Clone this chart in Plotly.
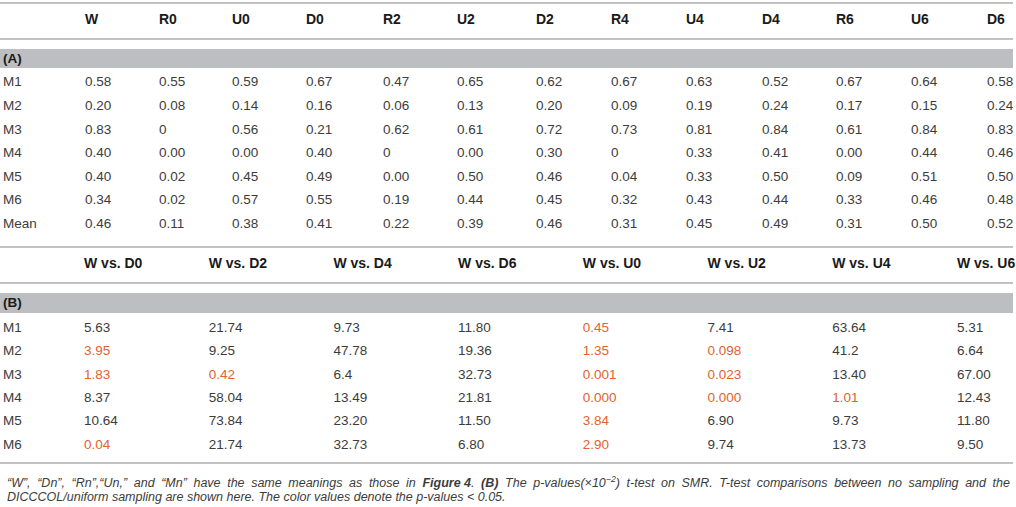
import plotly.graph_objects as go

# ---------------- data ----------------
cols_A = ["W", "R0", "U0", "D0", "R2", "U2", "D2", "R4", "U4", "D4", "R6", "U6", "D6"]
rows_A = ["M1", "M2", "M3", "M4", "M5", "M6", "Mean"]
W  = ["0.58", "0.20", "0.83", "0.40", "0.40", "0.34", "0.46"]
R0 = ["0.55", "0.08", "0", "0.00", "0.02", "0.02", "0.11"]
U0 = ["0.59", "0.14", "0.56", "0.00", "0.45", "0.57", "0.38"]
D0 = ["0.67", "0.16", "0.21", "0.40", "0.49", "0.55", "0.41"]
R2 = ["0.47", "0.06", "0.62", "0", "0.00", "0.19", "0.22"]
U2 = ["0.65", "0.13", "0.61", "0.00", "0.50", "0.44", "0.39"]
D2 = ["0.62", "0.20", "0.72", "0.30", "0.46", "0.45", "0.46"]
R4 = ["0.67", "0.09", "0.73", "0", "0.04", "0.32", "0.31"]
U4 = ["0.63", "0.19", "0.81", "0.33", "0.33", "0.43", "0.45"]
D4 = ["0.52", "0.24", "0.84", "0.41", "0.50", "0.44", "0.49"]
R6 = ["0.67", "0.17", "0.61", "0.00", "0.09", "0.33", "0.31"]
U6 = ["0.64", "0.15", "0.84", "0.44", "0.51", "0.46", "0.50"]
D6 = ["0.58", "0.24", "0.83", "0.46", "0.50", "0.48", "0.52"]
table_A = [W, R0, U0, D0, R2, U2, D2, R4, U4, D4, R6, U6, D6]

cols_B = ["W vs. D0", "W vs. D2", "W vs. D4", "W vs. D6",
          "W vs. U0", "W vs. U2", "W vs. U4", "W vs. U6"]
rows_B = ["M1", "M2", "M3", "M4", "M5", "M6"]
W_D0 = ["5.63", "3.95", "1.83", "8.37", "10.64", "0.04"]
W_D2 = ["21.74", "9.25", "0.42", "58.04", "73.84", "21.74"]
W_D4 = ["9.73", "47.78", "6.4", "13.49", "23.20", "32.73"]
W_D6 = ["11.80", "19.36", "32.73", "21.81", "11.50", "6.80"]
W_U0 = ["0.45", "1.35", "0.001", "0.000", "3.84", "2.90"]
W_U2 = ["7.41", "0.098", "0.023", "0.000", "6.90", "9.74"]
W_U4 = ["63.64", "41.2", "13.40", "1.01", "9.73", "13.73"]
W_U6 = ["5.31", "6.64", "67.00", "12.43", "11.80", "9.50"]
table_B = [W_D0, W_D2, W_D4, W_D6, W_U0, W_U2, W_U4, W_U6]
threshold = 5.0  # p < 0.05 in units of 1e-2

caption_1_words = ['\u201cW\u201d,', '\u201cDn\u201d,', '\u201cRn\u201d,\u201cUn,\u201d', 'and', '\u201cMn\u201d',
                   'have', 'the', 'same', 'meanings', 'as', 'those', 'in', '<b>Figure 4</b>.',
                   '<b>(B)</b>', 'The', 'p-values(\u00d710<sup>\u22122</sup>)', 't-test', 'on', 'SMR.',
                   'T-test', 'comparisons', 'between', 'no', 'sampling', 'and', 'the']
caption_2 = 'DICCCOL/uniform sampling are shown here. The color values denote the p-values &lt; 0.05.'

# ---------------- layout constants ----------------
W_PX, H_PX = 1016, 507
FONT = "Liberation Sans"
TXT = "#3c3c3c"
HEAD = "#1a1a1a"
HILITE = "#E0632E"
RULE = "#C2C2C2"
BAND = "#BDBEC1"
CAP_SIZE = 12.5
JUSTIFY_GAP = " \u2005"  # widened word gap to imitate the justified first line
DY = 1.5  # small vertical nudge for body rows

xA = [85, 159, 232, 306, 383, 457, 536, 611, 686, 762, 836, 911, 987]
xB = [84 + i * 124.7 for i in range(8)]
x_label = 3
yA_head, yA_band, yA0, yA_step = 20, (49, 68), 81.5 + DY, 23.6
yB_head, yB_band, yB0, yB_step = 264, (293, 313), 327 + DY, 23.4
rules = [3, 39, 247, 283, 463]

fig = go.Figure()

def text_trace(xs, ys, texts, color, size=13.5, bold=False):
    t = [f"<b>{s}</b>" if bold else s for s in texts]
    fig.add_trace(go.Scatter(
        x=xs, y=ys, text=t, mode="text",
        textposition="middle right",
        textfont=dict(family=FONT, size=size, color=color),
        hoverinfo="skip", showlegend=False, cliponaxis=False))

# Section A
text_trace(xA, [yA_head] * len(cols_A), cols_A, HEAD, size=14, bold=True)
yA = [yA0 + i * yA_step for i in range(len(rows_A))]
text_trace([x_label] * len(rows_A), yA, rows_A, TXT)
for j, col in enumerate(table_A):
    text_trace([xA[j]] * len(col), yA, col, TXT)

# Section B
text_trace(xB, [yB_head] * len(cols_B), cols_B, HEAD, size=14, bold=True)
yB = [yB0 + i * yB_step for i in range(len(rows_B))]
text_trace([x_label] * len(rows_B), yB, rows_B, TXT)
for j, col in enumerate(table_B):
    colors = [HILITE if float(v) < threshold else TXT for v in col]
    fig.add_trace(go.Scatter(
        x=[xB[j]] * len(col), y=yB, text=col, mode="text",
        textposition="middle right",
        textfont=dict(family=FONT, size=13.5, color=colors),
        hoverinfo="skip", showlegend=False, cliponaxis=False))

# Section labels
text_trace([x_label], [(yA_band[0] + yA_band[1]) / 2 + 1], ["(A)"], HEAD, bold=True)
text_trace([x_label], [(yB_band[0] + yB_band[1]) / 2 + 1], ["(B)"], HEAD, bold=True)

shapes = []
for y0, y1 in (yA_band, yB_band):
    shapes.append(dict(type="rect", xref="x", yref="y", x0=0, x1=1013, y0=y0, y1=y1,
                       fillcolor=BAND, line=dict(width=0), layer="below"))
for y in rules:
    shapes.append(dict(type="line", xref="x", yref="y", x0=0, x1=1013, y0=y, y1=y,
                       line=dict(color=RULE, width=2), layer="below"))

caption_1 = JUSTIFY_GAP.join(caption_1_words)
annotations = [
    dict(x=5, y=482, xref="x", yref="y", text=f"<i>{caption_1}</i>", showarrow=False,
         xanchor="left", yanchor="middle", font=dict(family=FONT, size=CAP_SIZE, color=TXT)),
    dict(x=5, y=497, xref="x", yref="y", text=f"<i>{caption_2}</i>", showarrow=False,
         xanchor="left", yanchor="middle", font=dict(family=FONT, size=CAP_SIZE, color=TXT)),
]

fig.update_layout(
    width=W_PX, height=H_PX,
    margin=dict(l=0, r=0, t=0, b=0),
    paper_bgcolor="white", plot_bgcolor="white",
    xaxis=dict(range=[0, W_PX], visible=False, fixedrange=True),
    yaxis=dict(range=[H_PX, 0], visible=False, fixedrange=True),
    shapes=shapes, annotations=annotations,
)

fig.write_html(
    "out.html",
    config={"displayModeBar": False},
    post_script="document.body.style.margin='0';document.body.style.padding='0';"
                "document.body.style.overflow='hidden';"
                "document.documentElement.style.overflow='hidden';",
)
